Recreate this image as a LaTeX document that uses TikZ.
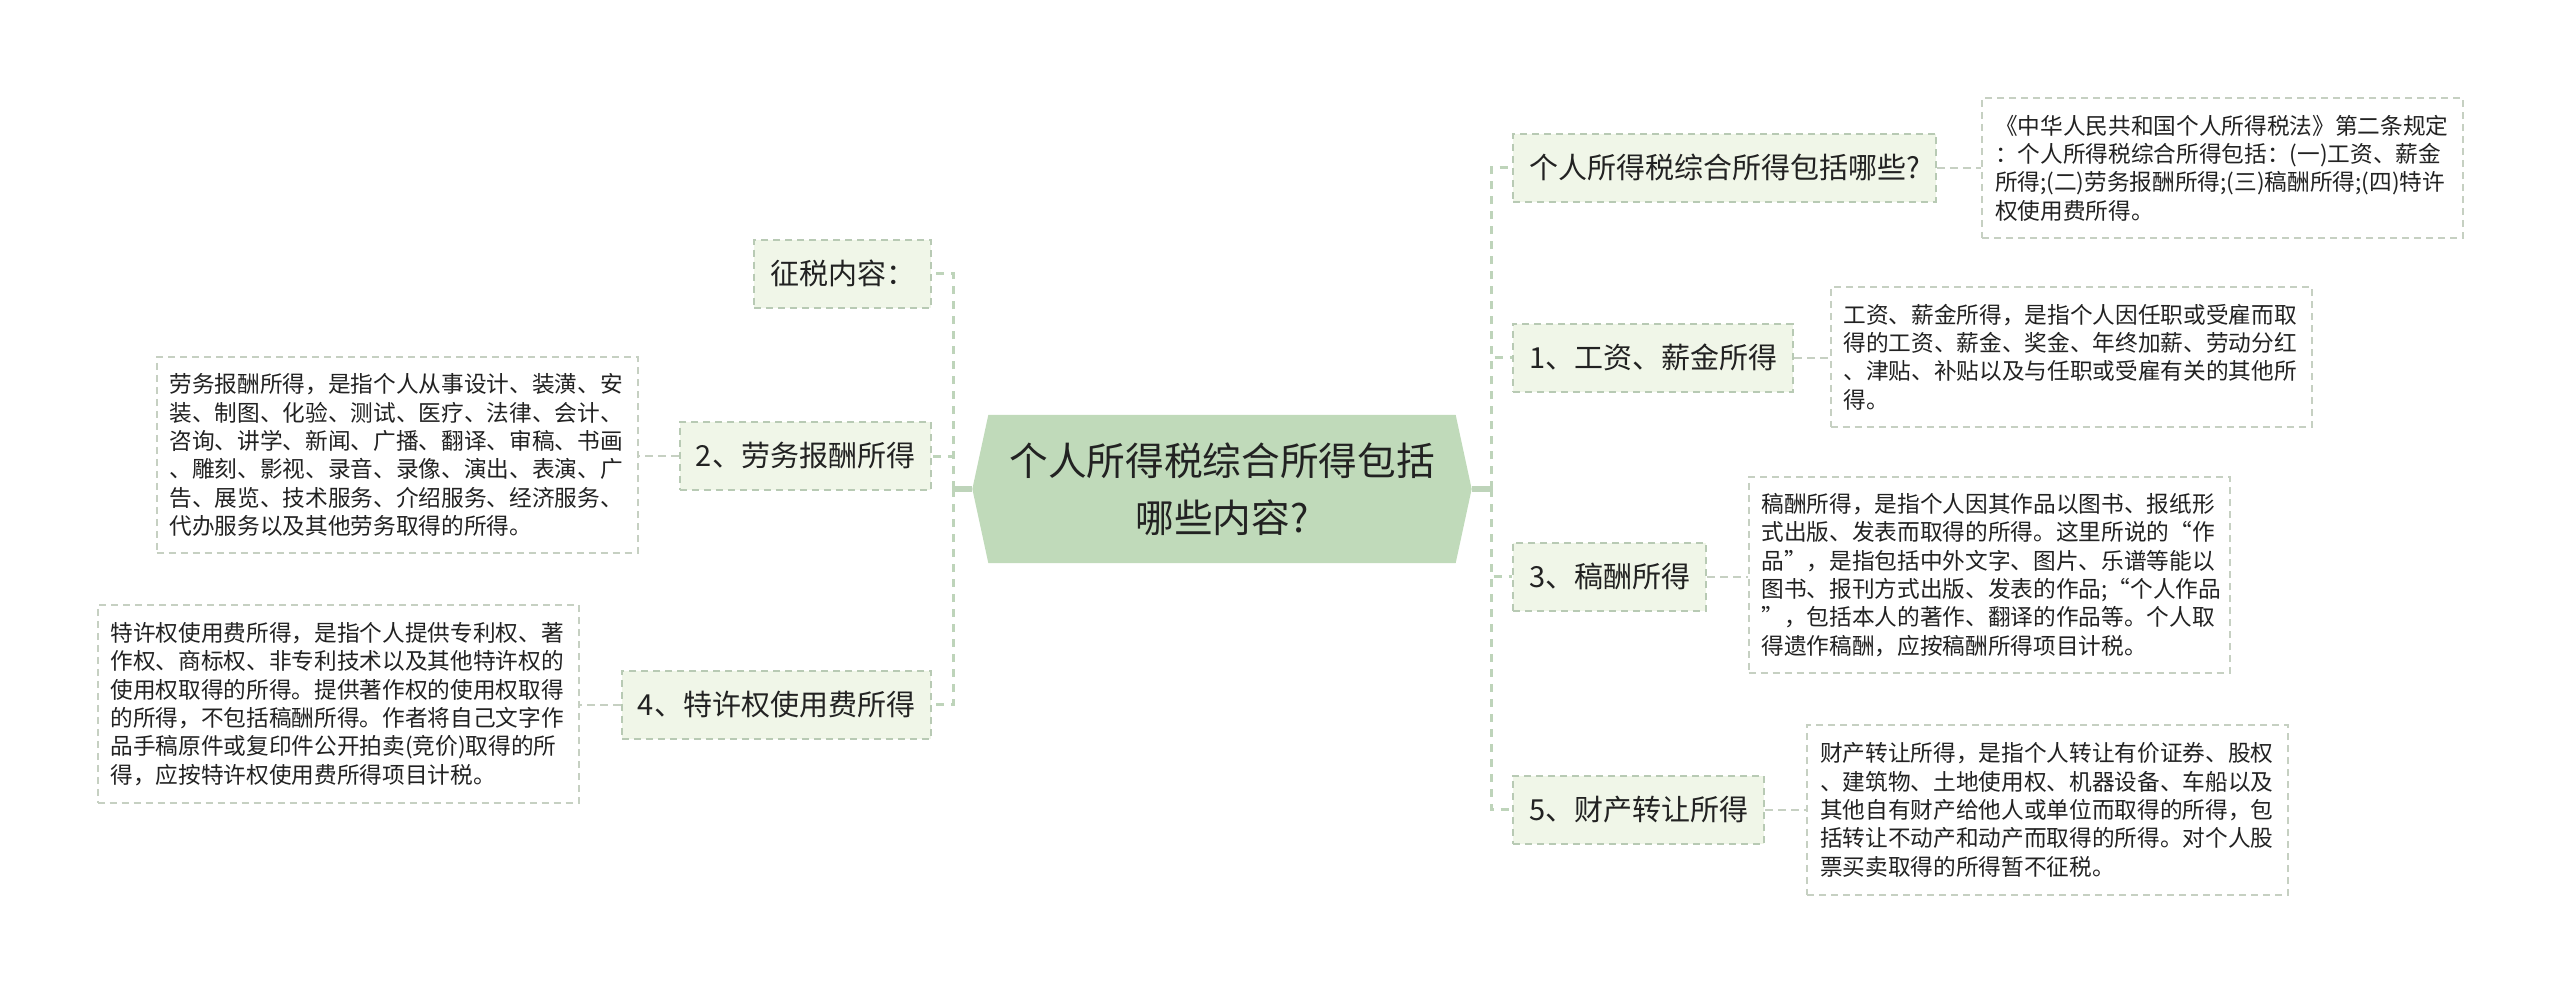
\documentclass[tikz,border=0pt]{standalone}
\usepackage{fontspec}
\setmainfont{Noto Sans CJK SC}
\usetikzlibrary{calc}
\newdimen\pxu \pxu=0.3pt
\definecolor{rootfill}{RGB}{192,218,186}
\definecolor{topicfill}{RGB}{240,246,232}
\definecolor{topicline}{RGB}{184,202,180}
\definecolor{descline}{RGB}{198,208,194}
\definecolor{busline}{RGB}{190,212,186}
\definecolor{txt}{RGB}{34,34,34}
\pgfdeclarelayer{bg}
\pgfsetlayers{bg,main}
\begin{document}
\begin{tikzpicture}[x=0.3pt,y=-0.3pt,
 rootnode/.style={minimum width=498\pxu, minimum height=147\pxu, inner sep=0pt, align=center, text=txt, font=\fontsize{11.6pt}{17.1pt}\selectfont},
 topic/.style={draw=topicline, line width=0.6pt, dash pattern=on 2.1pt off 1.5pt, fill=topicfill, minimum height=68\pxu, inner xsep=16\pxu, inner ysep=0pt, text=txt, font=\fontsize{8.7pt}{10pt}\selectfont},
 desc/.style={draw=descline, line width=0.6pt, dash pattern=on 2.1pt off 1.5pt, fill=white, text width=455\pxu, inner xsep=13\pxu, inner ysep=0pt, align=left, text=txt, font=\fontsize{6.8pt}{8.5pt}\selectfont},
 trunk/.style={draw=busline, line width=1.6pt},
 bus/.style={draw=busline, line width=0.9pt, dash pattern=on 2.4pt off 2.1pt},
 link/.style={draw=descline, line width=0.6pt, dash pattern=on 2.4pt off 1.5pt}]
\useasboundingbox (0,0) rectangle (2560,993);

% root
\node[rootnode] (root) at (1222,489) {个人所得税综合所得包括\\哪些内容?};
\begin{pgfonlayer}{bg}
\fill[rootfill] (root.west) -- ([xshift=16\pxu]root.north west) -- ([xshift=-16\pxu]root.north east) -- (root.east) -- ([xshift=-16\pxu]root.south east) -- ([xshift=16\pxu]root.south west) -- cycle;
\end{pgfonlayer}

% right topics
\node[topic, anchor=west] (c0) at (1512,167.5) {个人所得税综合所得包括哪些?};
\node[topic, anchor=west] (c1) at (1512,357.5) {1、工资、薪金所得};
\node[topic, anchor=west] (c3) at (1512,576.5) {3、稿酬所得};
\node[topic, anchor=west] (c5) at (1512,809.5) {5、财产转让所得};

% left topics
\node[topic, anchor=east] (l0) at (932,273.5) {征税内容：};
\node[topic, anchor=east] (l2) at (932,456) {2、劳务报酬所得};
\node[topic, anchor=east] (l4) at (932,704.5) {4、特许权使用费所得};

% descriptions
\node[desc, minimum height=140\pxu] (d0) at (2222.5,168) {《中华人民共和国个人所得税法》第二条规定\\：个人所得税综合所得包括：(一)工资、薪金\\所得;(二)劳务报酬所得;(三)稿酬所得;(四)特许\\权使用费所得。};
\node[desc, minimum height=140\pxu] (d1) at (2071,357) {工资、薪金所得，是指个人因任职或受雇而取\\得的工资、薪金、奖金、年终加薪、劳动分红\\、津贴、补贴以及与任职或受雇有关的其他所\\得。};
\node[desc, minimum height=196\pxu] (d3) at (1989,575) {稿酬所得，是指个人因其作品以图书、报纸形\\式出版、发表而取得的所得。这里所说的“作\\品”，是指包括中外文字、图片、乐谱等能以\\图书、报刊方式出版、发表的作品;“个人作品\\”，包括本人的著作、翻译的作品等。个人取\\得遗作稿酬，应按稿酬所得项目计税。};
\node[desc, minimum height=170\pxu] (d5) at (2047.5,810) {财产转让所得，是指个人转让有价证券、股权\\、建筑物、土地使用权、机器设备、车船以及\\其他自有财产给他人或单位而取得的所得，包\\括转让不动产和动产而取得的所得。对个人股\\票买卖取得的所得暂不征税。};
\node[desc, minimum height=196\pxu] (d2) at (397,455) {劳务报酬所得，是指个人从事设计、装潢、安\\装、制图、化验、测试、医疗、法律、会计、\\咨询、讲学、新闻、广播、翻译、审稿、书画\\、雕刻、影视、录音、录像、演出、表演、广\\告、展览、技术服务、介绍服务、经济服务、\\代办服务以及其他劳务取得的所得。};
\node[desc, minimum height=198\pxu] (d4) at (338,704) {特许权使用费所得，是指个人提供专利权、著\\作权、商标权、非专利技术以及其他特许权的\\使用权取得的所得。提供著作权的使用权取得\\的所得，不包括稿酬所得。作者将自己文字作\\品手稿原件或复印件公开拍卖(竞价)取得的所\\得，应按特许权使用费所得项目计税。};

% connectors
\coordinate (lb) at (953,489);
\coordinate (rb) at (1491,489);
\begin{pgfonlayer}{bg}
\draw[trunk] (root.west) -- (lb);
\draw[trunk] (root.east) -- (rb);
\draw[bus] (rb) |- (c0.west);
\draw[bus] (rb) |- (c1.west);
\draw[bus] (rb) |- (c3.west);
\draw[bus] (rb) |- (c5.west);
\draw[bus] (lb) |- (l0.east);
\draw[bus] (lb) |- (l2.east);
\draw[bus] (lb) |- (l4.east);
\draw[link] (c0.east) -- (c0.east -| d0.west);
\draw[link] (c1.east) -- (c1.east -| d1.west);
\draw[link] (c3.east) -- (c3.east -| d3.west);
\draw[link] (c5.east) -- (c5.east -| d5.west);
\draw[link] (l2.west) -- (l2.west -| d2.east);
\draw[link] (l4.west) -- (l4.west -| d4.east);
\end{pgfonlayer}
\end{tikzpicture}
\end{document}
